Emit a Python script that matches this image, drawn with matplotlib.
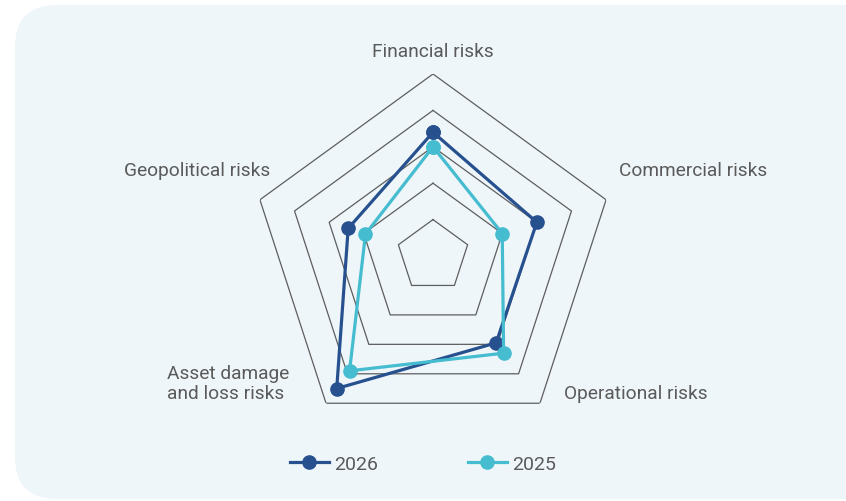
import numpy as np
import matplotlib.pyplot as plt
from matplotlib.patches import FancyBboxPatch

categories = ['Financial risks', 'Commercial risks', 'Operational risks',
              'Asset damage\nand loss risks', 'Geopolitical risks']
values_2026 = [3.4, 3.0, 2.95, 4.5, 2.45]
values_2025 = [3.0, 2.0, 3.3, 3.9, 1.95]
levels = [1, 2, 3, 4, 5]

plt.rcParams['font.family'] = ['Roboto', 'DejaVu Sans']
text_color = '#5a5a5a'
dark = '#27508f'
light = '#45bccf'

fig = plt.figure(figsize=(8.46, 5.02), dpi=100, facecolor='white')

# rounded light panel behind the chart
bg = fig.add_axes([0, 0, 1, 1])
bg.set_xlim(0, 846)
bg.set_ylim(502, 0)
bg.axis('off')
bg.add_patch(FancyBboxPatch((15, 6), 880, 494,
                            boxstyle='round,pad=0,rounding_size=42',
                            facecolor='#eef6f9', edgecolor='none'))

ax = fig.add_axes([251 / 846, 63 / 502, 364 / 846, 364 / 502], polar=True)
ax.set_theta_offset(np.pi / 2)
ax.set_theta_direction(-1)
ax.set_ylim(0, 5)
ax.patch.set_alpha(0)
ax.spines['polar'].set_visible(False)
ax.grid(False)
ax.set_xticks([])
ax.set_yticks([])

angles = np.linspace(0, 2 * np.pi, len(categories), endpoint=False)
closed = np.append(angles, angles[0])

for lv in levels:
    ax.plot(closed, [lv] * len(closed), color='#5e5e5e', lw=0.9, zorder=1)

for vals, col, lab in [(values_2026, dark, '2026'), (values_2025, light, '2025')]:
    ax.plot(closed, vals + vals[:1], color=col, lw=2.3, marker='o',
            markersize=9.5, label=lab, zorder=3)

# category labels
label_pos = [(433, 52, 'center'), (619, 171, 'left'), (564, 394, 'left'),
             (289, 384, 'right'), (270, 171, 'right')]
for name, (x, y, ha) in zip(categories, label_pos):
    bg.text(x, y, name, ha=ha, va='center', fontsize=13.8, color=text_color,
            linespacing=1.1, multialignment='left')

leg = fig.legend(loc='center', bbox_to_anchor=(423 / 846, 1 - 465 / 502),
                 ncol=2, frameon=False, fontsize=14, handlelength=2.0,
                 handletextpad=0.3, columnspacing=4.6)
for t in leg.get_texts():
    t.set_color(text_color)

plt.savefig('out.png', dpi=100, facecolor='white')
